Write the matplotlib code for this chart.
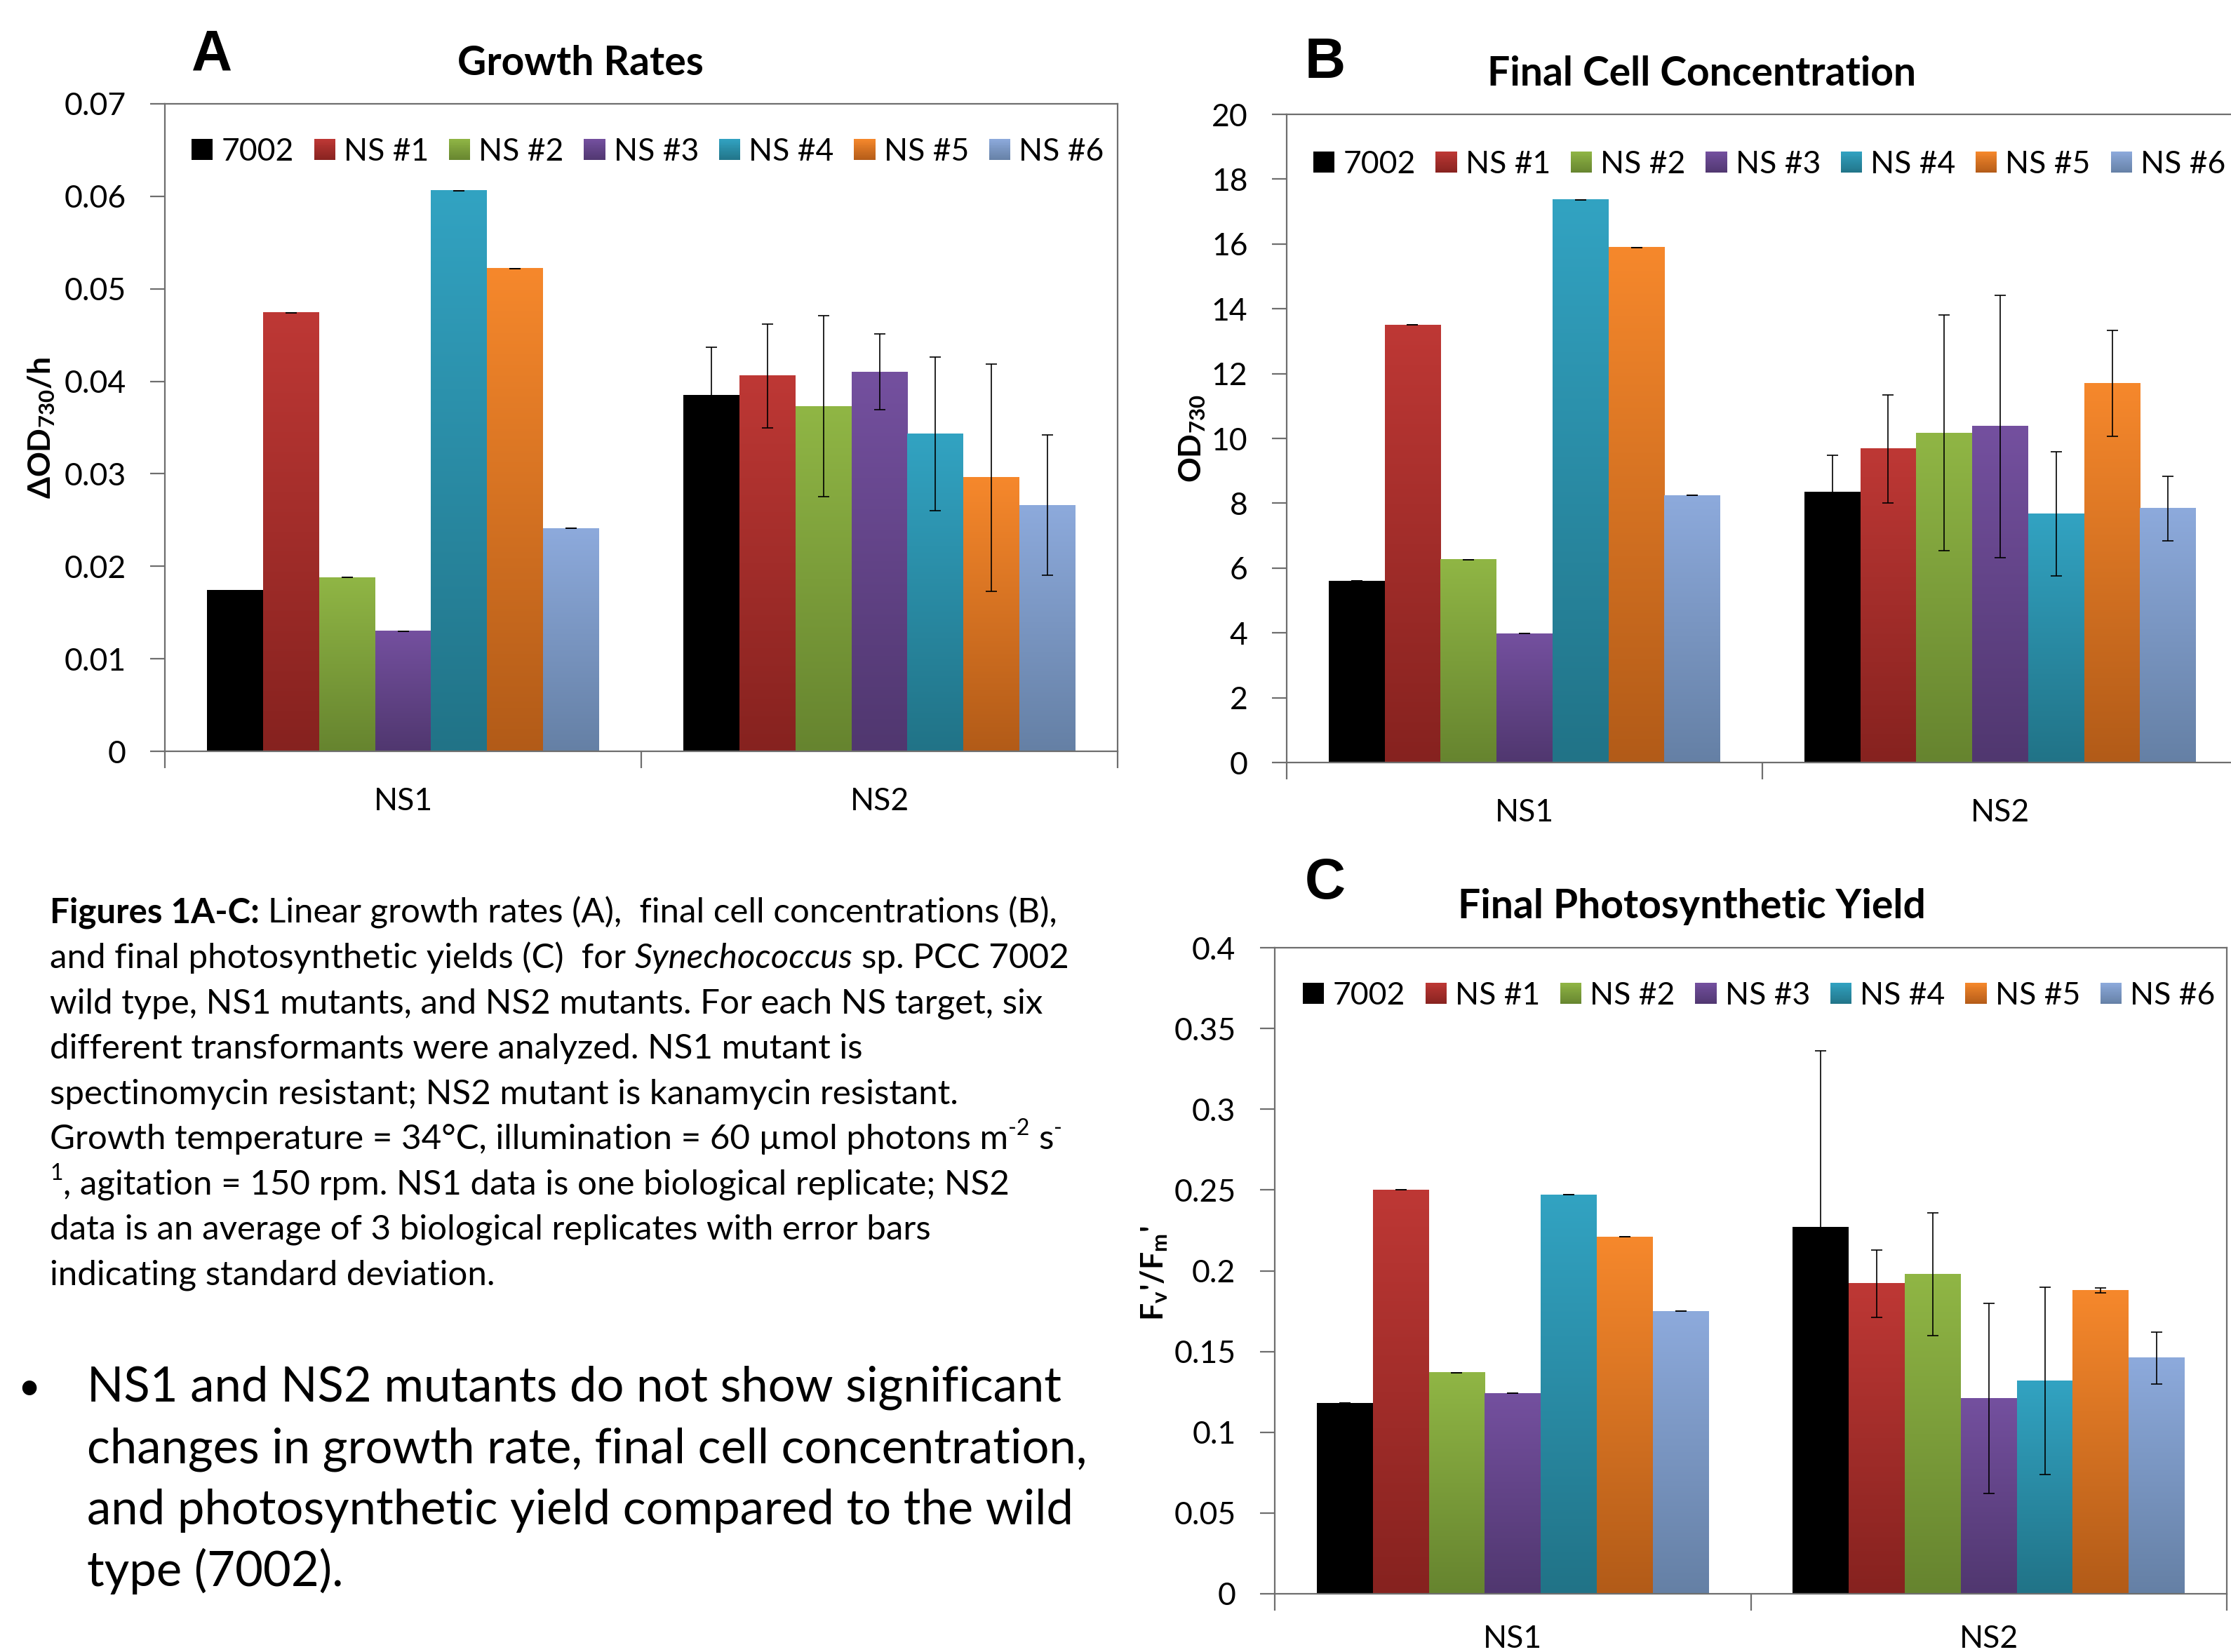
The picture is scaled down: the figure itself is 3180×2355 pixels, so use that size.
import numpy as np
import matplotlib
matplotlib.use('Agg')
import matplotlib.pyplot as plt
from matplotlib.patches import Rectangle
from matplotlib.legend_handler import HandlerBase
from matplotlib.colors import to_rgb

FONT = ['Lato', 'DejaVu Sans']
plt.rcParams['font.family'] = FONT
plt.rcParams['mathtext.fontset'] = 'custom'
plt.rcParams['mathtext.rm'] = 'Lato'
plt.rcParams['mathtext.bf'] = 'Lato:bold'
plt.rcParams['mathtext.it'] = 'Lato:italic'

# ---------------- data ----------------
categories = ['NS1', 'NS2']
series = ['7002', 'NS #1', 'NS #2', 'NS #3', 'NS #4', 'NS #5', 'NS #6']
top_colors = ['#000000', '#BE3835', '#90B645', '#74509F', '#32A3C2', '#F6882C', '#8DAADC']
bottom_colors = ['#000000', '#86221F', '#66842F', '#50376F', '#217387', '#B25B18', '#6580A5']

growth_ns1 = [0.0174, 0.0474, 0.0188, 0.0130, 0.0606, 0.0522, 0.0241]
growth_ns1_err = [0, 0, 0, 0, 0, 0, 0]
growth_ns2 = [0.0385, 0.0406, 0.0373, 0.0410, 0.0343, 0.0296, 0.0266]
growth_ns2_err = [0.0052, 0.0056, 0.0098, 0.0041, 0.0083, 0.0123, 0.0076]
growth_ticks = ['0', '0.01', '0.02', '0.03', '0.04', '0.05', '0.06', '0.07']

conc_ns1 = [5.60, 13.50, 6.26, 3.98, 17.37, 15.89, 8.24]
conc_ns1_err = [0, 0, 0, 0, 0, 0, 0]
conc_ns2 = [8.35, 9.68, 10.17, 10.37, 7.67, 11.70, 7.84]
conc_ns2_err = [1.13, 1.67, 3.63, 4.05, 1.92, 1.63, 0.99]
conc_ticks = ['0', '2', '4', '6', '8', '10', '12', '14', '16', '18', '20']

yield_ns1 = [0.118, 0.250, 0.137, 0.124, 0.247, 0.221, 0.175]
yield_ns1_err = [0, 0, 0, 0, 0, 0, 0]
yield_ns2 = [0.227, 0.192, 0.198, 0.121, 0.132, 0.188, 0.146]
yield_ns2_err = [0.109, 0.021, 0.038, 0.059, 0.058, 0.0015, 0.016]
yield_ticks = ['0', '0.05', '0.1', '0.15', '0.2', '0.25', '0.3', '0.35', '0.4']

# ---------------- figure ----------------
W, H = 3180, 2355
fig = plt.figure(figsize=(W / 100, H / 100), dpi=100)
fig.patch.set_facecolor('white')

def ax_rect(l, t, r, b):
    return [l / W, 1 - b / H, (r - l) / W, (b - t) / H]

SPINE = '#6E6E6E'
TICK_FS = 32


class GradHandler(HandlerBase):
    def __init__(self, top, bottom, n=16):
        super().__init__()
        self.top = np.array(to_rgb(top))
        self.bottom = np.array(to_rgb(bottom))
        self.n = n

    def create_artists(self, legend, orig_handle, xdescent, ydescent,
                       width, height, fontsize, trans):
        arts = []
        for i in range(self.n):
            f = (i + 0.5) / self.n
            col = self.bottom * (1 - f) + self.top * f
            r = Rectangle((-xdescent, -ydescent + height * i / self.n),
                          width, height / self.n * 1.08,
                          facecolor=col, edgecolor='none', lw=0,
                          transform=trans)
            arts.append(r)
        return arts


def draw_panel(ax, v1, e1, v2, e2, ymax, ticklabels, legend_xy, xpad=37):
    n = len(series)
    bw = 1.0 / (n + 1.5)
    centers = np.array([0.5, 1.5])
    vals = np.array([v1, v2]).T   # series x category
    errs = np.array([e1, e2]).T
    for i in range(n):
        xs = centers + (i - (n - 1) / 2) * bw
        bars = ax.bar(xs, vals[i], bw, color='none', edgecolor='none', zorder=2)
        top = np.array(to_rgb(top_colors[i]))
        bot = np.array(to_rgb(bottom_colors[i]))
        c = np.linspace(0, 1, 256)[:, None]
        img = (1 - c) * top + c * bot
        for rect in bars:
            x0, y0 = rect.get_x(), rect.get_y()
            ww, hh = rect.get_width(), rect.get_height()
            ax.imshow(img[:, None, :], extent=[x0, x0 + ww, y0, y0 + hh],
                      aspect='auto', origin='upper', interpolation='bilinear',
                      zorder=2)
        ax.errorbar(xs, vals[i], yerr=errs[i], fmt='none', ecolor='black',
                    elinewidth=1.2, capsize=6, capthick=1.2, zorder=4)
    ax.set_xlim(0, 2)
    ax.set_ylim(0, ymax)
    ax.set_yticks(np.linspace(0, ymax, len(ticklabels)))
    ax.set_yticklabels(ticklabels)
    ax.set_xticks(centers)
    ax.set_xticklabels(categories)
    ax.set_xticks([0, 1, 2], minor=True)
    ax.tick_params(axis='x', which='major', length=0, pad=xpad, labelsize=TICK_FS)
    ax.tick_params(axis='x', which='minor', length=17, width=1.6, color=SPINE,
                   direction='out')
    ax.tick_params(axis='y', length=15, width=1.6, color=SPINE, pad=25,
                   labelsize=TICK_FS, direction='out')
    for s in ax.spines.values():
        s.set_color(SPINE)
        s.set_linewidth(1.6)
    ax.set_facecolor('white')
    handles = [Rectangle((0, 0), 1, 1) for _ in series]
    hmap = {h: GradHandler(t, b) for h, t, b in zip(handles, top_colors, bottom_colors)}
    ax.legend(handles, series, ncol=n, loc='center left', bbox_to_anchor=legend_xy,
              frameon=False, fontsize=TICK_FS, handlelength=0.68, handleheight=0.68,
              handletextpad=0.27, columnspacing=0.65, borderpad=0, borderaxespad=0,
              handler_map=hmap)


axA = fig.add_axes(ax_rect(235, 148, 1593, 1071))
axB = fig.add_axes(ax_rect(1834, 163, 3190, 1087))
axC = fig.add_axes(ax_rect(1817, 1351, 3174, 2272))

draw_panel(axA, growth_ns1, growth_ns1_err, growth_ns2, growth_ns2_err, 0.07,
           growth_ticks, (0.028, 0.926))
draw_panel(axB, conc_ns1, conc_ns1_err, conc_ns2, conc_ns2_err, 20,
           conc_ticks, (0.028, 0.923))
draw_panel(axC, yield_ns1, yield_ns1_err, yield_ns2, yield_ns2_err, 0.4,
           yield_ticks, (0.0295, 0.926), xpad=32)

# ---------------- titles / labels ----------------
def ftext(x, y, s, **kw):
    return fig.text(x / W, 1 - y / H, s, **kw)

for letter, x, y in [('A', 273, 100), ('B', 1860, 111), ('C', 1860, 1281)]:
    ftext(x, y, letter, fontsize=58, fontweight='bold', ha='left', va='baseline',
          family=['Liberation Sans', 'DejaVu Sans'])

for title, x, y in [('Growth Rates', 827, 107),
                    ('Final Cell Concentration', 2426, 122),
                    ('Final Photosynthetic Yield', 2411, 1309)]:
    ftext(x, y, title, fontsize=41, fontweight='bold', ha='center', va='baseline')

ftext(59, 610, r'ΔOD$_{\mathbf{730}}$/h', fontsize=32, fontweight='bold',
      rotation=90, ha='center', va='center')
ftext(1700, 625, r'OD$_{\mathbf{730}}$', fontsize=32, fontweight='bold',
      rotation=90, ha='center', va='center')
ftext(1645, 1815, r"F$_{\mathbf{v}}$'/F$_{\mathbf{m}}$'", fontsize=32, fontweight='bold',
      rotation=90, ha='center', va='center')

# ---------------- caption ----------------
renderer = fig.canvas.get_renderer()

def measure(s, **kw):
    t = fig.text(0, 0, s, **kw)
    w = t.get_window_extent(renderer).width
    t.remove()
    return w

def runs_text(x, y, runs):
    for s, kw, dy in runs:
        sp = measure('n n', **kw) - measure('nn', **kw)
        lead = len(s) - len(s.lstrip(' '))
        trail = len(s) - len(s.rstrip(' '))
        core = s.strip(' ')
        x += lead * sp
        if core:
            t = ftext(x, y - dy, core, ha='left', va='baseline', **kw)
            x += t.get_window_extent(renderer).width
        x += trail * sp

CAP_FS = 35.5
reg = dict(fontsize=CAP_FS)
bold = dict(fontsize=CAP_FS, fontweight='bold')
ital = dict(fontsize=CAP_FS, fontstyle='italic')
sup = dict(fontsize=CAP_FS * 0.65)
SUPDY = 20

cap_lines = [
    [('Figures 1A-C:', bold, 0), (' Linear growth rates (A),  final cell concentrations (B),', reg, 0)],
    [('and final photosynthetic yields (C)  for ', reg, 0), ('Synechococcus', ital, 0),
     (' sp. PCC 7002', reg, 0)],
    [('wild type, NS1 mutants, and NS2 mutants. For each NS target, six', reg, 0)],
    [('different transformants were analyzed. NS1 mutant is', reg, 0)],
    [('spectinomycin resistant; NS2 mutant is kanamycin resistant.', reg, 0)],
    [('Growth temperature = 34°C, illumination = 60 µmol photons m', reg, 0),
     ('-2', sup, SUPDY), (' s', reg, 0), ('-', sup, SUPDY)],
    [('1', sup, SUPDY), (', agitation = 150 rpm. NS1 data is one biological replicate; NS2', reg, 0)],
    [('data is an average of 3 biological replicates with error bars', reg, 0)],
    [('indicating standard deviation.', reg, 0)],
]
for i, line in enumerate(cap_lines):
    runs_text(71, 1316 + 64.4 * i, line)

BUL_FS = 49.5
bullet_lines = ['NS1 and NS2 mutants do not show significant',
                'changes in growth rate, final cell concentration,',
                'and photosynthetic yield compared to the wild',
                'type (7002).']
ftext(41, 1995, '•', fontsize=40, ha='center', va='baseline')
for i, s in enumerate(bullet_lines):
    ftext(124, 1997 + 88 * i, s, fontsize=BUL_FS, ha='left', va='baseline')

fig.savefig('out.png', dpi=100, facecolor='white')
